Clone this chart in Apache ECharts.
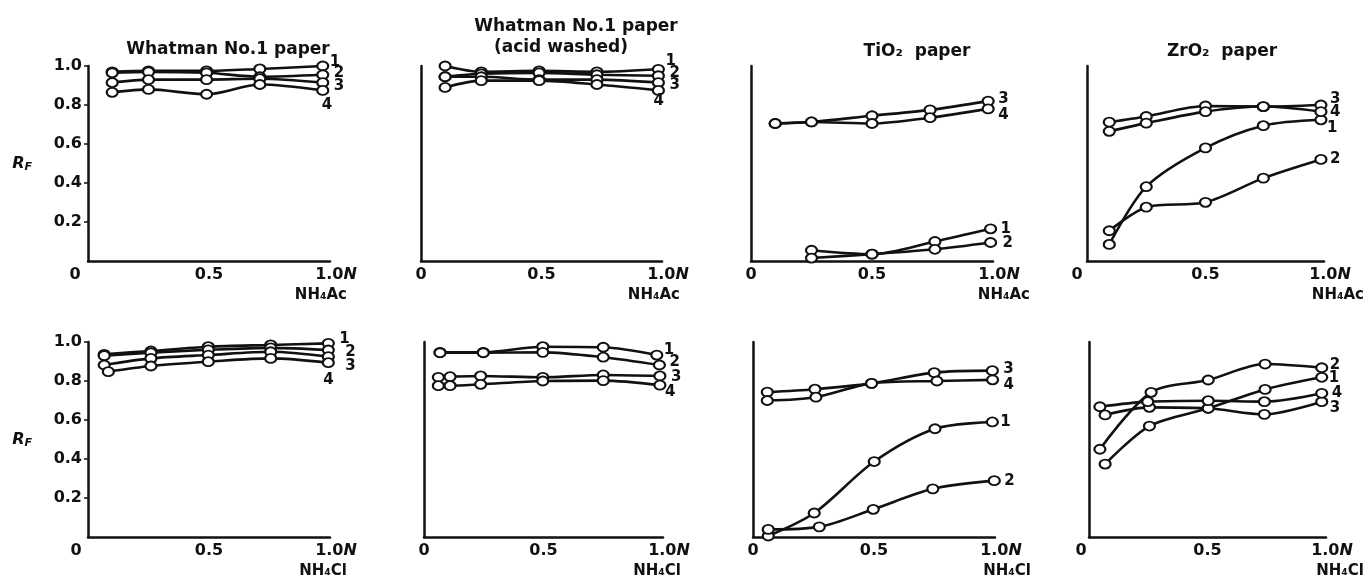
<!DOCTYPE html>
<html>
<head>
<meta charset="utf-8">
<script src="https://cdn.jsdelivr.net/npm/echarts@6/dist/echarts.min.js"></script>
<style>
html, body { margin: 0; background: #fff; }
#chart { width: 1366px; height: 581px; }
</style>
</head>
<body>
<div id="chart"></div>
<script>
// RF against eluent concentration (N), one [N, RF] list per spot 1..4
const whatmanAc = [
    [[0.1, 0.97], [0.25, 0.975], [0.49, 0.975], [0.71, 0.985], [0.97, 1.0]],
    [[0.1, 0.965], [0.25, 0.97], [0.49, 0.965], [0.71, 0.945], [0.97, 0.955]],
    [[0.1, 0.915], [0.25, 0.93], [0.49, 0.93], [0.71, 0.935], [0.97, 0.915]],
    [[0.1, 0.865], [0.25, 0.88], [0.49, 0.855], [0.71, 0.905], [0.97, 0.875]]
];
const acidAc = [
    [[0.1, 1.0], [0.25, 0.97], [0.49, 0.975], [0.73, 0.97], [0.985, 0.983]],
    [[0.1, 0.945], [0.25, 0.96], [0.49, 0.965], [0.73, 0.955], [0.985, 0.95]],
    [[0.1, 0.945], [0.25, 0.945], [0.49, 0.93], [0.73, 0.93], [0.985, 0.915]],
    [[0.1, 0.89], [0.25, 0.925], [0.49, 0.925], [0.73, 0.905], [0.985, 0.875]]
];
const tioAc = [
    [[0.25, 0.055], [0.5, 0.035], [0.76, 0.1], [0.99, 0.165]],
    [[0.25, 0.015], [0.5, 0.035], [0.76, 0.06], [0.99, 0.095]],
    [[0.1, 0.705], [0.25, 0.713], [0.5, 0.745], [0.74, 0.775], [0.98, 0.82]],
    [[0.1, 0.705], [0.25, 0.713], [0.5, 0.705], [0.74, 0.735], [0.98, 0.78]]
];
const zroAc = [
    [[0.094, 0.085], [0.25, 0.381], [0.5, 0.58], [0.744, 0.694], [0.987, 0.724]],
    [[0.094, 0.155], [0.25, 0.276], [0.5, 0.301], [0.744, 0.425], [0.987, 0.521]],
    [[0.094, 0.712], [0.25, 0.741], [0.5, 0.795], [0.744, 0.792], [0.987, 0.8]],
    [[0.094, 0.665], [0.25, 0.707], [0.5, 0.766], [0.744, 0.792], [0.987, 0.766]]
];
const whatmanCl = [
    [[0.067, 0.937], [0.26, 0.954], [0.497, 0.976], [0.755, 0.985], [0.993, 0.993]],
    [[0.067, 0.93], [0.26, 0.945], [0.497, 0.96], [0.755, 0.97], [0.993, 0.959]],
    [[0.067, 0.882], [0.26, 0.916], [0.497, 0.933], [0.755, 0.95], [0.993, 0.925]],
    [[0.084, 0.848], [0.26, 0.877], [0.497, 0.899], [0.755, 0.916], [0.993, 0.894]]
];
const acidCl = [
    [[0.067, 0.947], [0.248, 0.947], [0.497, 0.976], [0.75, 0.973], [0.974, 0.933]],
    [[0.067, 0.945], [0.248, 0.945], [0.497, 0.947], [0.75, 0.922], [0.985, 0.882]],
    [[0.06, 0.819], [0.109, 0.822], [0.237, 0.826], [0.497, 0.819], [0.75, 0.831], [0.987, 0.826]],
    [[0.06, 0.776], [0.109, 0.776], [0.237, 0.783], [0.497, 0.8], [0.75, 0.802], [0.987, 0.779]]
];
const tioCl = [
    [[0.063, 0.005], [0.253, 0.123], [0.501, 0.387], [0.752, 0.555], [0.989, 0.59]],
    [[0.063, 0.039], [0.274, 0.052], [0.497, 0.142], [0.743, 0.247], [0.997, 0.289]],
    [[0.059, 0.743], [0.256, 0.758], [0.49, 0.788], [0.749, 0.843], [0.989, 0.853]],
    [[0.059, 0.70], [0.26, 0.717], [0.49, 0.788], [0.76, 0.8], [0.99, 0.806]]
];
const zroCl = [
    [[0.068, 0.374], [0.255, 0.569], [0.503, 0.66], [0.743, 0.757], [0.982, 0.819]],
    [[0.046, 0.45], [0.262, 0.742], [0.503, 0.805], [0.743, 0.887], [0.982, 0.868]],
    [[0.068, 0.626], [0.255, 0.665], [0.503, 0.66], [0.74, 0.629], [0.982, 0.694]],
    [[0.046, 0.668], [0.248, 0.694], [0.503, 0.699], [0.74, 0.694], [0.982, 0.737]]
];

const spots = ['1', '2', '3', '4'];
const panels = [whatmanAc, acidAc, tioAc, zroAc, whatmanCl, acidCl, tioCl, zroCl];
const eluents = ['NH₄Ac', 'NH₄Cl'];
const yTicks = [0, 0.2, 0.4, 0.6, 0.8, 1.0];

// layout of the 8 small plots
const colLeft = [[88, 421, 751, 1087], [88, 424, 753, 1089]];
const colWidth = [[242, 241, 242, 237], [242, 239, 242, 237]];
const rowTop = [66, 342];
const zeroShift = [13, 0, 0, 10, 12, 0, 0, 8];
const nameGap = [17, 18, 37, 40, 17, 18, 36, 38];
const labelShift = [
    [[2, -4], [6, -2], [6, 4], [-6, 15]],
    [[2, -8], [6, -3], [6, 3], [-10, 11]],
    [[5, 0], [7, 1], [5, -2], [5, 6]],
    [[1, 8], [4, 0], [4, -6], [4, 0]],
    [[6, -4], [12, 2], [12, 9], [-10, 17]],
    [[2, -5], [5, -3], [6, 1], [0, 7]],
    [[3, 0], [5, 0], [6, -2], [6, 5]],
    [[2, 1], [3, -3], [3, 6], [5, 0]]
];

const font = 'DejaVu Sans';
const ink = '#111';

var chart = echarts.init(document.getElementById('chart'));

var grids = [], xAxes = [], yAxes = [], series = [];
panels.forEach(function (panel, gi) {
    var row = Math.floor(gi / 4), col = gi % 4;
    grids.push({ left: colLeft[row][col], top: rowTop[row], width: colWidth[row][col], height: 195 });
    xAxes.push({
        type: 'value', gridIndex: gi, min: 0, max: 1, interval: 0.5,
        name: eluents[row], nameLocation: 'end', nameGap: nameGap[gi],
        nameTextStyle: { fontFamily: font, fontSize: 15, fontWeight: 'bold', color: ink, align: 'right', verticalAlign: 'top', padding: [27, 0, 0, 0] },
        axisLine: { lineStyle: { color: ink, width: 2.5 } },
        axisTick: { show: false },
        splitLine: { show: false },
        axisLabel: {
            margin: 6, fontFamily: font, fontSize: 16, fontWeight: 'bold', color: ink,
            formatter: function (v) {
                if (v === 0) return '{z|0}';
                if (v === 1) return '{o|1.0}{n|N}';
                return '0.5';
            },
            rich: {
                z: { fontFamily: font, fontSize: 16, fontWeight: 'bold', color: ink, padding: [0, zeroShift[gi] * 2, 0, 0] },
                o: { fontFamily: font, fontSize: 16, fontWeight: 'bold', color: ink, padding: [0, 0, 0, 12] },
                n: { fontFamily: font, fontSize: 16, color: ink, fontStyle: 'italic' }
            }
        }
    });
    yAxes.push({
        type: 'value', gridIndex: gi, min: yTicks[0], max: yTicks[yTicks.length - 1], interval: 0.2,
        name: col === 0 ? '{r|R}{f|F}' : '', nameLocation: 'middle', nameRotate: 0, nameGap: 56,
        nameTextStyle: {
            rich: {
                r: { fontFamily: font, fontSize: 16, fontStyle: 'italic', fontWeight: 'bold', color: ink },
                f: { fontFamily: font, fontSize: 11, fontStyle: 'italic', fontWeight: 'bold', color: ink, padding: [8, 0, 0, 0] }
            }
        },
        axisLine: { show: true, lineStyle: { color: ink, width: 2.5 } },
        axisTick: { show: col === 0, length: 4, lineStyle: { color: ink, width: 1.5 } },
        splitLine: { show: false },
        axisLabel: {
            show: col === 0, showMinLabel: false, margin: 6,
            fontFamily: font, fontSize: 16, fontWeight: 'bold', color: ink,
            formatter: function (v) { return v.toFixed(1); }
        }
    });
    panel.forEach(function (pts, si) {
        series.push({
            type: 'line', name: spots[si], xAxisIndex: gi, yAxisIndex: gi,
            data: pts, smooth: 0.3,
            symbol: 'emptyCircle', symbolSize: [11, 9],
            lineStyle: { color: ink, width: 2.6 },
            itemStyle: { color: ink, borderColor: ink, borderWidth: 2 },
            endLabel: {
                show: true, formatter: '{a}', distance: 5,
                offset: labelShift[gi][si],
                fontFamily: font, fontSize: 15, fontWeight: 'bold', color: ink
            },
            z: 3 + si
        });
    });
});

var titleStyle = { fontFamily: font, fontSize: 17, fontWeight: 'bold', color: ink };
chart.setOption({
    backgroundColor: '#fff',
    animation: false,
    title: [
        { text: 'Whatman No.1 paper', left: 223, top: 36, textAlign: 'center', textStyle: titleStyle },
        { text: 'Whatman No.1 paper', left: 571, top: 13, textAlign: 'center', textStyle: titleStyle },
        { text: '(acid washed)', left: 556, top: 34, textAlign: 'center', textStyle: titleStyle },
        { text: 'TiO₂  paper', left: 912, top: 38, textAlign: 'center', textStyle: titleStyle },
        { text: 'ZrO₂  paper', left: 1217, top: 38, textAlign: 'center', textStyle: titleStyle }
    ],
    grid: grids,
    xAxis: xAxes,
    yAxis: yAxes,
    series: series
});
</script>
</body>
</html>
